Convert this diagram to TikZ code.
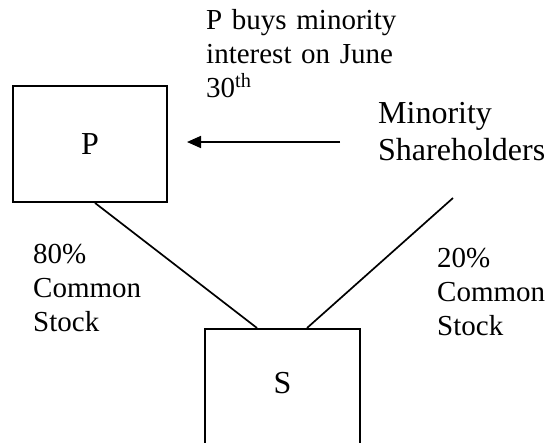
\documentclass[tikz,border=0pt]{standalone}
\usepackage{fontspec}
\setmainfont{Liberation Serif}
\usetikzlibrary{arrows.meta}
\begin{document}
\begin{tikzpicture}[x=1pt,y=1pt,
  box/.style={draw, line width=1.9pt, inner sep=0pt},
  link/.style={line width=1.7pt},
  arr/.style={line width=1.7pt, -{Triangle[length=14pt,width=12pt]}},
  note/.style={font=\fontsize{29}{34}\selectfont, anchor=base west, align=left,
               inner sep=0pt, text width=220pt},
  big/.style={font=\fontsize{32}{37}\selectfont, inner sep=0pt}]
\useasboundingbox (0,0) rectangle (548,-442);
\clip (0,0) rectangle (548,-442);

% parent and subsidiary boxes
\node[box, big, minimum width=154pt, minimum height=116pt] (P) at (90,-144) {P};
\node[box, minimum width=155pt, minimum height=160pt, anchor=north] (S) at (282.5,-328) {};
\node[big] (Slabel) at ([yshift=-55pt]S.north) {S};

% labels
\node[note] (buy) at (206,-29) {P buys minority\\interest on June\\30\textsuperscript{th}};
\node[big, anchor=base west, align=left, text width=170pt] (ms) at (378,-123)
  {Minority\\Shareholders};
\node[note] (pct80) at (33,-263) {80\%\\Common\\Stock};
\node[note] (pct20) at (437,-267) {20\%\\Common\\Stock};

% purchase arrow
\coordinate (tail) at (340,-142);
\coordinate (head) at (187,-142);
\draw[arr] (tail) -- (head);

% ownership links
\draw[link] ([xshift=5pt]P.south) -- ([xshift=-25.5pt]S.north);
\coordinate (mtop) at (453,-198);
\draw[link] (mtop) -- ([xshift=24.5pt]S.north);
\end{tikzpicture}
\end{document}
